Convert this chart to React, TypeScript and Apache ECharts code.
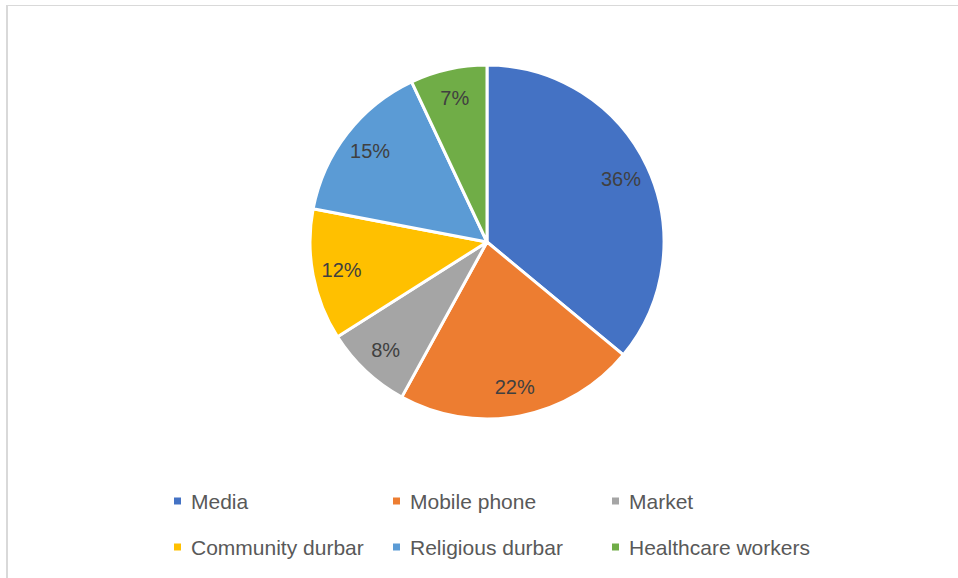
import React, { useEffect, useRef } from "react";
import * as echarts from "echarts";

const categories = ["Media", "Mobile phone", "Market", "Community durbar", "Religious durbar", "Healthcare workers"];
const values = [36, 22, 8, 12, 15, 7];
const colors = ["#4472C4", "#ED7D31", "#A5A5A5", "#FFC000", "#5B9BD5", "#70AD47"];

const FONT = "'Liberation Sans', Arial, sans-serif";

export default function App() {
  const ref = useRef<HTMLDivElement>(null);
  useEffect(() => {
    document.body.style.margin = "0";
    const chart = echarts.init(ref.current!, null, { renderer: "svg" });
    const data = categories.map((name, i) => ({ name, value: values[i], itemStyle: { color: colors[i] } }));
    const legendItem = (i: number) => ({ name: categories[i], itemStyle: { color: colors[i] } });
    const legendBase = {
      left: 172,
      padding: 0,
      orient: "horizontal" as const,
      icon: "rect",
      itemWidth: 9,
      itemHeight: 9,
      itemGap: 15,
      selectedMode: false,
      textStyle: {
        fontFamily: FONT,
        fontSize: 21,
        color: "#595959",
        width: 185,
        lineHeight: 24,
        padding: [0, 0, 0, 4],
        overflow: "none",
      },
    };
    chart.setOption({
      animation: false,
      backgroundColor: "#ffffff",
      graphic: [
        { type: "rect", shape: { x: 6, y: 5, width: 2, height: 600 }, style: { fill: "#d9d9d9" } },
        { type: "rect", shape: { x: 6, y: 5, width: 960, height: 1 }, style: { fill: "#d9d9d9" } },
      ],
      legend: [
        { ...legendBase, top: 489, data: [0, 1, 2].map(legendItem) },
        { ...legendBase, top: 535, data: [3, 4, 5].map(legendItem) },
      ],
      series: [
        {
          type: "pie",
          center: [487, 242],
          radius: [0, 177],
          startAngle: 90,
          clockwise: true,
          silent: true,
          data,
          label: { show: false },
          labelLine: { show: false },
          itemStyle: { borderColor: "#ffffff", borderWidth: 3 },
          emphasis: { disabled: true },
        },
        {
          type: "pie",
          center: [487, 242],
          radius: [113, 177],
          startAngle: 90,
          clockwise: true,
          silent: true,
          data: categories.map((name, i) => ({ name, value: values[i] })),
          itemStyle: { color: "transparent", borderWidth: 0 },
          label: {
            show: true,
            position: "inside",
            formatter: "{c}%",
            fontFamily: FONT,
            fontSize: 20,
            color: "#404040",
          },
          labelLine: { show: false },
          emphasis: { disabled: true },
        },
      ],
    });
    return () => chart.dispose();
  }, []);
  return <div ref={ref} style={{ position: "fixed", left: 0, top: 0, width: 958, height: 578 }} />;
}
